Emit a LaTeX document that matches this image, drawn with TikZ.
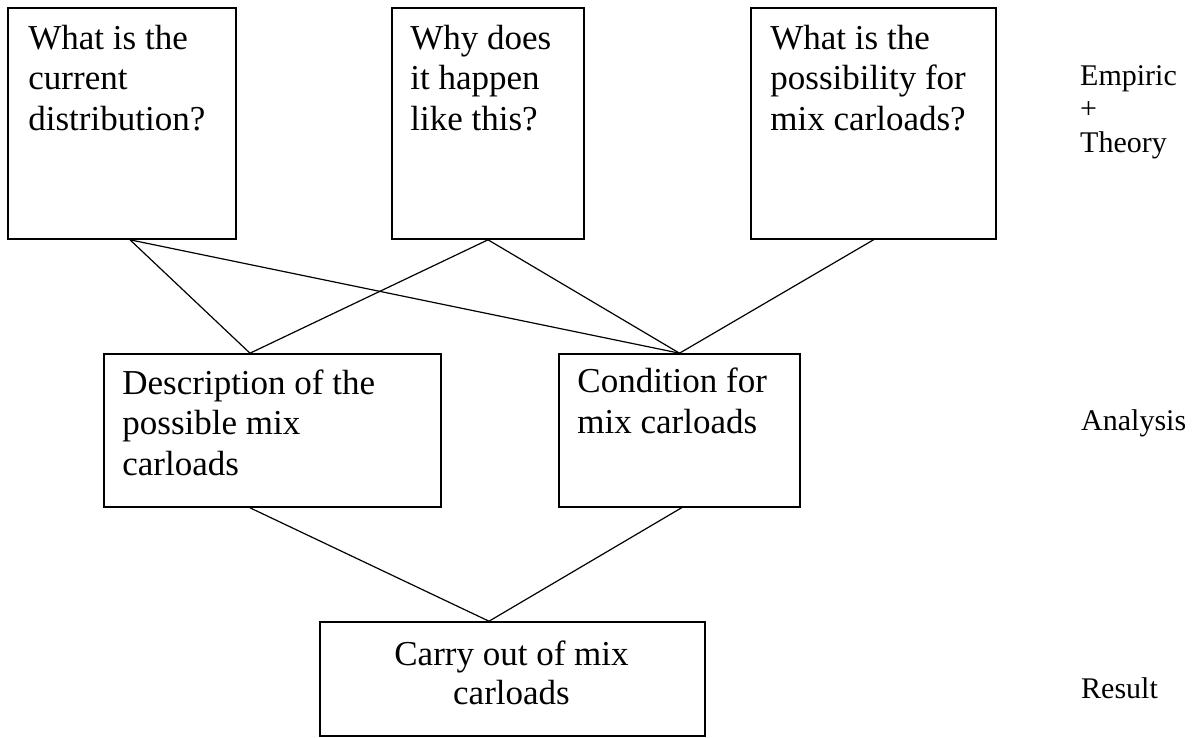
\documentclass[tikz,border=0pt]{standalone}
\usepackage{fontspec}
\setmainfont{Liberation Serif}
\begin{document}
\begin{tikzpicture}[x=1pt,y=-1pt,
  box/.style={draw=black,line width=1.6pt,rectangle,inner sep=0pt},
  btext/.style={inner sep=0pt,align=left,anchor=base west,font=\fontsize{35}{40.5}\selectfont},
  ctext/.style={inner sep=0pt,align=center,anchor=base,font=\fontsize{35}{38.5}\selectfont},
  ltext/.style={inner sep=0pt,align=left,anchor=base west,font=\fontsize{30}{33.5}\selectfont},
  conn/.style={draw=black,line width=1.2pt}]
\useasboundingbox (0,0) rectangle (1198,737);
% boxes
\node[box,minimum width=228pt,minimum height=231pt] (A) at (122,123.5) {};
\node[box,minimum width=192pt,minimum height=231pt] (B) at (488,123.5) {};
\node[box,minimum width=245pt,minimum height=231pt] (C) at (873.5,123.5) {};
\node[box,minimum width=337pt,minimum height=153pt] (D) at (272.5,430.5) {};
\node[box,minimum width=241pt,minimum height=153pt] (E) at (679.5,430.5) {};
\node[box,minimum width=385pt,minimum height=114pt] (F) at (512.5,679) {};
% texts (anchor = baseline of the last line)
\node[btext] (At) at ([xshift=21pt,yshift=-123pt]A.north west) {What is the\\current\\distribution?};
\node[btext] (Bt) at ([xshift=19pt,yshift=-123pt]B.north west) {Why does\\it happen\\like this?};
\node[btext] (Ct) at ([xshift=20pt,yshift=-123pt]C.north west) {What is the\\possibility for\\mix carloads?};
\node[btext] (Dt) at ([xshift=19pt,yshift=-122pt]D.north west) {Description of the\\possible mix\\carloads};
\node[btext] (Et) at ([xshift=19pt,yshift=-80pt]E.north west) {Condition for\\mix carloads};
\node[ctext] (Ft) at ([xshift=-1pt,yshift=-83pt]F.north) {Carry out of mix\\carloads};
% side labels
\node[ltext] (L1) at (1080,152) {Empiric\\+\\Theory};
\node[ltext] (L2) at (1081,430) {Analysis};
\node[ltext] (L3) at (1081,698) {Result};
% connectors
\draw[conn] ([xshift=8pt]A.south) -- ([xshift=-22.5pt]D.north);
\draw[conn] ([xshift=8pt]A.south) -- (E.north);
\draw[conn] (B.south) -- ([xshift=-22.5pt]D.north);
\draw[conn] (B.south) -- (E.north);
\draw[conn] (C.south) -- (E.north);
\draw[conn] ([xshift=-22.5pt]D.south) -- ([xshift=-23.5pt]F.north);
\draw[conn] ([xshift=2pt]E.south) -- ([xshift=-23.5pt]F.north);
\end{tikzpicture}
\end{document}
